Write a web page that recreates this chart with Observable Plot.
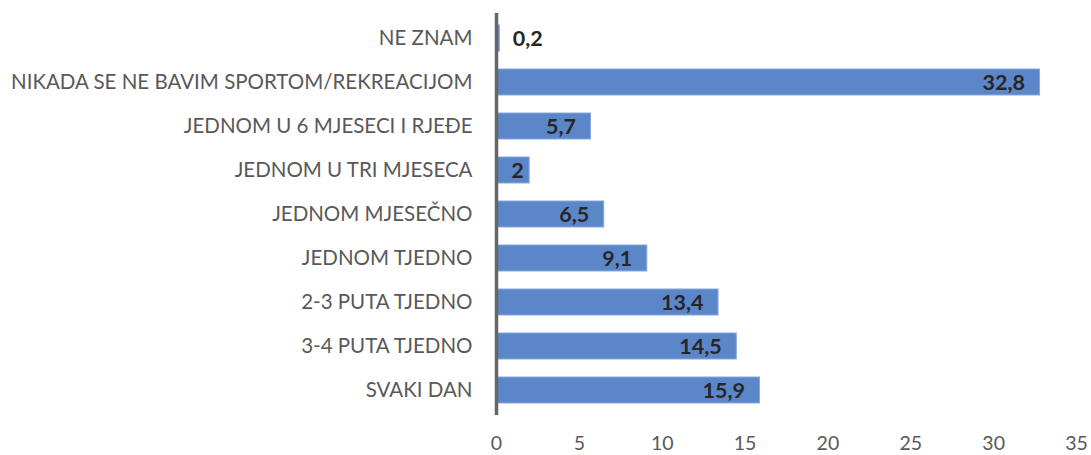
<!DOCTYPE html>
<html>
<head>
<meta charset="utf-8">
<script src="https://cdn.jsdelivr.net/npm/d3@7"></script>
<script src="https://cdn.jsdelivr.net/npm/@observablehq/plot@0.6"></script>
<style>
  html, body { margin: 0; padding: 0; background: #fff; }
  #chart svg { display: block; }
</style>
</head>
<body>
<div id="chart"></div>
<script>
const categories = [
  "NE ZNAM",
  "NIKADA SE NE BAVIM SPORTOM/REKREACIJOM",
  "JEDNOM U 6 MJESECI I RJEĐE",
  "JEDNOM U TRI MJESECA",
  "JEDNOM MJESEČNO",
  "JEDNOM TJEDNO",
  "2-3 PUTA TJEDNO",
  "3-4 PUTA TJEDNO",
  "SVAKI DAN"
];
const values = [0.2, 32.8, 5.7, 2, 6.5, 9.1, 13.4, 14.5, 15.9];
const xTicks = [0, 5, 10, 15, 20, 25, 30, 35];

const data = categories.map((c, i) => ({category: c, value: values[i]}));
const fmt = v => String(v).replace(".", ",");
const font = "Lato, 'Open Sans', sans-serif";
const labelStyle = {fontSize: 21.5, fontWeight: "bold", fill: "#262626", dy: 1};

const chart = Plot.plot({
  width: 1091,
  height: 455,
  marginLeft: 496,
  marginRight: 15,
  marginTop: 13,
  marginBottom: 40,
  style: {fontFamily: font, background: "#fff"},
  x: {domain: [0, 35], ticks: xTicks},
  y: {domain: categories, paddingInner: 0.41, paddingOuter: 0.18},
  marks: [
    Plot.barX(data, {y: "category", x: "value", fill: "#5b87c9", stroke: "#86a8dd", strokeWidth: 1}),
    Plot.ruleX([0], {stroke: "#666666", strokeWidth: 3.5}),
    Plot.text(data.filter(d => d.value >= 3), {
      y: "category", x: "value", text: d => fmt(d.value),
      textAnchor: "end", dx: -15, ...labelStyle
    }),
    Plot.text(data.filter(d => d.value >= 1 && d.value < 3), {
      y: "category", x: "value", text: d => fmt(d.value),
      textAnchor: "end", dx: -6, ...labelStyle
    }),
    Plot.text(data.filter(d => d.value < 1), {
      y: "category", x: "value", text: d => fmt(d.value),
      textAnchor: "start", dx: 13, ...labelStyle
    }),
    Plot.axisX({ticks: xTicks, tickSize: 0, tickPadding: 21, fontSize: 19.5, color: "#595959", label: null}),
    Plot.axisY({tickSize: 0, tickPadding: 24, fontSize: 20.5, color: "#595959", label: null})
  ]
});
document.getElementById("chart").appendChild(chart);
</script>
</body>
</html>
